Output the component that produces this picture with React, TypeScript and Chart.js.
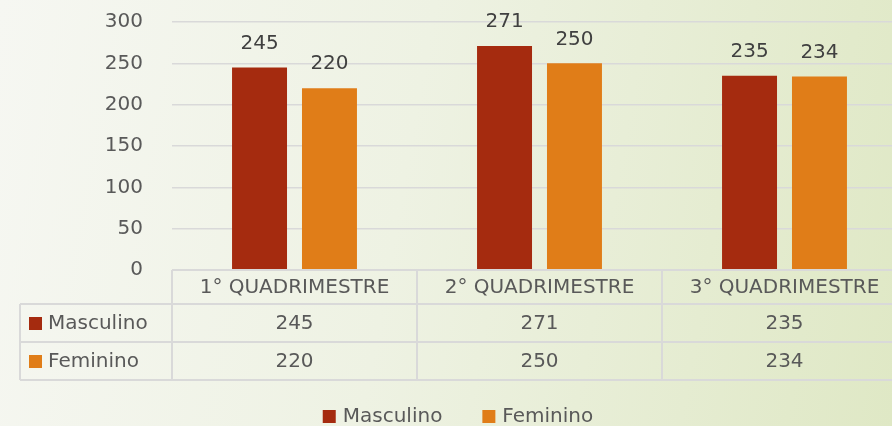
import React, { useEffect, useRef } from "react";
import { Chart, registerables } from "chart.js";
Chart.register(...registerables);

const categories = ["1° QUADRIMESTRE", "2° QUADRIMESTRE", "3° QUADRIMESTRE"];
const seriesNames = ["Masculino", "Feminino"];
const masculino = [245, 271, 235];
const feminino = [220, 250, 234];
const seriesColors = ["#A52B0F", "#E07D18"];
const yTicks = { min: 0, max: 300, step: 50 };

const FONT = "'DejaVu Sans', sans-serif";
const GRID = "#d9d9d9";
const TEXT = "#595959";

const tablePlugin = {
  id: "dataTable",
  afterDraw(chart: any) {
    const ctx = chart.ctx;
    const area = chart.chartArea;
    const n = categories.length;
    const colW = (area.right - area.left) / n;
    const top = area.bottom;
    const r1 = top + 34;
    const r2 = r1 + 38;
    const r3 = r2 + 38;
    const leftX = 20;
    ctx.save();
    ctx.strokeStyle = GRID;
    ctx.lineWidth = 2;
    ctx.beginPath();
    ctx.moveTo(area.left, top);
    ctx.lineTo(area.right, top);
    [r1, r2, r3].forEach((y) => {
      ctx.moveTo(leftX, y);
      ctx.lineTo(area.right, y);
    });
    ctx.moveTo(leftX, r1);
    ctx.lineTo(leftX, r3);
    for (let i = 0; i <= n; i++) {
      const x = area.left + i * colW;
      ctx.moveTo(x, top);
      ctx.lineTo(x, r3);
    }
    ctx.stroke();

    ctx.fillStyle = TEXT;
    ctx.font = `20px ${FONT}`;
    ctx.textAlign = "center";
    ctx.textBaseline = "middle";
    const rows = [masculino, feminino];
    categories.forEach((c, i) => {
      const cx = area.left + (i + 0.5) * colW;
      ctx.fillText(c, cx, (top + r1) / 2 + 1);
      ctx.fillText(String(rows[0][i]), cx, (r1 + r2) / 2 + 1);
      ctx.fillText(String(rows[1][i]), cx, (r2 + r3) / 2 + 1);
    });
    const rowMid = [(r1 + r2) / 2, (r2 + r3) / 2];
    seriesNames.forEach((s, k) => {
      ctx.fillStyle = seriesColors[k];
      ctx.fillRect(29, rowMid[k] - 6, 13, 13);
      ctx.fillStyle = TEXT;
      ctx.textAlign = "left";
      ctx.fillText(s, 48, rowMid[k] + 1);
    });

    // bottom legend
    const legY = 416;
    const gap = 40;
    const widths = seriesNames.map((s) => 20 + ctx.measureText(s).width);
    const total = widths.reduce((a, b) => a + b, 0) + gap;
    let x = 458 - total / 2;
    seriesNames.forEach((s, k) => {
      ctx.fillStyle = seriesColors[k];
      ctx.fillRect(x, legY - 6, 13, 13);
      ctx.fillStyle = TEXT;
      ctx.textAlign = "left";
      ctx.fillText(s, x + 20, legY + 1);
      x += widths[k] + gap;
    });
    ctx.restore();
  },
  afterDatasetsDraw(chart: any) {
    const ctx = chart.ctx;
    ctx.save();
    ctx.fillStyle = "#404040";
    ctx.font = `20px ${FONT}`;
    ctx.textAlign = "center";
    ctx.textBaseline = "middle";
    chart.data.datasets.forEach((ds: any, i: number) => {
      const meta = chart.getDatasetMeta(i);
      meta.data.forEach((el: any, j: number) => {
        ctx.fillText(String(ds.data[j]), el.x, el.y - 24);
      });
    });
    ctx.restore();
  },
};

export default function App() {
  const ref = useRef<HTMLCanvasElement | null>(null);
  useEffect(() => {
    document.body.style.margin = "0";
    const chart = new Chart(ref.current!, {
      type: "bar",
      data: {
        labels: categories,
        datasets: [
          { label: seriesNames[0], data: masculino, backgroundColor: seriesColors[0] },
          { label: seriesNames[1], data: feminino, backgroundColor: seriesColors[1] },
        ],
      },
      options: {
        animation: false,
        responsive: false,
        layout: { padding: { top: 22, bottom: 156, right: 0, left: 0 } },
        plugins: { legend: { display: false }, tooltip: { enabled: false } },
        datasets: { bar: { categoryPercentage: 0.571, barPercentage: 0.786 } },
        scales: {
          x: { display: false },
          y: {
            min: yTicks.min,
            max: yTicks.max,
            afterFit: (s: any) => {
              s.width = 172;
            },
            border: { display: false },
            grid: {
              color: GRID,
              lineWidth: 1.5,
              drawTicks: true,
              tickLength: 29,
              tickColor: "rgba(0,0,0,0)",
            },
            ticks: {
              stepSize: yTicks.step,
              color: TEXT,
              padding: 0,
              font: { family: FONT, size: 20 },
            },
          },
        },
      },
      plugins: [tablePlugin],
    });
    return () => chart.destroy();
  }, []);
  return (
    <div
      style={{
        width: 892,
        height: 426,
        overflow: "hidden",
        background: "linear-gradient(100deg, #f6f7f2 0%, #eef2e3 45%, #dfe8c5 100%)",
      }}
    >
      <canvas ref={ref} width={907} height={426} style={{ display: "block" }} />
    </div>
  );
}
